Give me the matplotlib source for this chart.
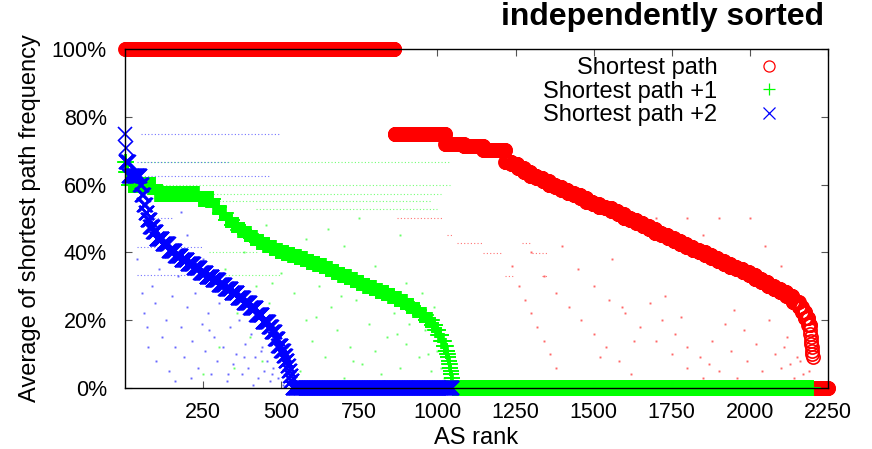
#!/usr/bin/env python3
"""
Average shortest path frequency vs AS rank, each series sorted independently
"""

import matplotlib
matplotlib.use('Agg')
import matplotlib.pyplot as plt
import numpy as np

plt.rcParams['font.family'] = ['Liberation Sans', 'DejaVu Sans']

# sorted curves, stored as (value %, number of ASes with that value)
red_values = [100, 75, 72, 71.5, 70.3,
              66.8, 66.0, 65.0, 63.8, 62.6, 61.8, 61.0, 60.0, 59.2, 58.3,
              57.6, 56.9, 56.0, 55.0, 54.2, 53.5, 53.0, 52.2, 51.3, 50.2,
              49.5, 48.8, 47.8, 46.8, 45.8, 45.0, 44.2, 43.4, 42.6, 41.6,
              40.8, 40.0, 39.2, 38.3, 37.5, 36.6, 35.8, 35.0, 34.2, 33.2,
              32.2, 31.2, 30.2, 29.3, 28.2, 27.0, 25.5,
              24.0, 22.5, 20.5, 18.5,
              17, 16, 15, 14, 13, 12, 11, 10, 9, 0]
red_counts = [862, 162, 60, 62, 70] + [20] * 47 + [10, 10, 10, 6] + [1] * 9 + [49]

green_values = [66.7, 63.6, 60.0, 57.1, 55.6,
                53.5, 51.5, 49.5, 48.0, 46.5, 45.3, 44.2, 43.0, 42.2, 41.3,
                40.5, 39.8, 39.2, 38.6, 38.0, 37.3, 36.7, 36.0, 35.2, 34.3,
                33.4, 32.6, 31.8, 31.0, 30.2, 29.5, 28.7, 27.9, 27.0, 26.2,
                25.3, 24.3, 23.0, 21.6, 20.0,
                18.5, 17.0, 15.5, 14.0, 12.5, 11.0,
                10, 9, 8, 7, 6, 5, 4, 3, 2, 0]
green_counts = [3, 8, 85, 140, 46] + [20] * 35 + [10, 10, 10, 8, 6, 5] + [2] * 9 + [1153]

blue_values = [75, 70.8, 66.7, 62.5, 60, 57, 54, 51.5, 49.5, 47.5, 46,
               44.0, 42.5, 40.5, 39, 37.8, 36.5, 35.5, 34.0, 32.8, 31.8,
               30.5, 29.3, 28.0, 26.5, 25.0, 23.5, 21.5, 19.5,
               18, 16.5, 14.5, 12.5, 11, 9.5, 8, 6.5, 5, 3.5, 2, 0]
blue_counts = [1, 1, 10, 36, 6, 6, 6, 6, 8, 10, 10,
               20, 20, 20, 20, 20, 20, 20, 20, 20, 20,
               20, 20, 20, 20, 20, 20, 20, 20,
               10, 10, 10, 10, 8, 6, 6, 4, 4, 4, 4, 512]

# faint background points: horizontal runs (level %, first rank, last rank)
red_run_level = [50, 45, 42.7, 39.7, 33.1, 42.7, 39.7, 33.1]
red_run_start = [870, 1030, 1062, 1146, 1216, 1270, 1302, 1334]
red_run_end = [1018, 1050, 1146, 1206, 1242, 1296, 1350, 1354]

green_run_level = [66.7, 60.0, 57.1, 55.2, 52.8, 40.0, 33.3]
green_run_start = [50, 110, 240, 300, 420, 270, 320]
green_run_end = [1040, 1040, 1010, 980, 1000, 430, 500]

blue_run_level = [75, 66.7, 62.5, 50.0, 41.7, 33.3]
blue_run_start = [50, 40, 50, 60, 40, 40]
blue_run_end = [500, 330, 460, 150, 250, 220]

# faint background points: single ASes (rank, value %)
red_dot_rank = [1240, 1260, 1280, 1300, 1320, 1340, 1360, 1380, 1300, 1340,
                1380, 1420, 1460, 1500, 1540, 1580, 1620, 1450, 1500, 1550,
                1600, 1650, 1700, 1750, 1800, 1850, 1680, 1720, 1760, 1800,
                1840, 1880, 1900, 1940, 1960, 1990, 2020, 2040, 2060, 2080,
                2100, 2120, 2140, 2160, 2180, 2190, 1700, 1800, 1900, 2000,
                1650, 1850, 2050, 2100, 1950, 2060, 1560, 1400, 2110, 2150,
                2170, 2130, 1980, 1920, 1870, 1780, 1730, 1630, 1590, 1520]
red_dot_value = [36, 30, 26, 22, 18, 14, 10, 6, 40, 33,
                 28, 24, 20, 16, 12, 8, 4, 35, 30, 26,
                 22, 18, 14, 10, 6, 3, 25, 20, 16, 12,
                 9, 14, 5, 11, 3, 8, 13, 5, 2, 10,
                 6, 15, 3, 8, 1, 5, 50, 50, 50, 50,
                 47, 45, 42, 36, 23, 20, 38, 42, 12, 9,
                 4, 7, 17, 19, 7, 21, 27, 14, 24, 9]

green_dot_rank = [320, 340, 360, 380, 400, 420, 440, 460, 480, 500,
                  520, 540, 560, 580, 600, 620, 640, 660, 680, 700,
                  720, 740, 760, 780, 800, 820, 840, 860, 880, 900,
                  920, 940, 960, 980, 1000, 1020, 1035, 580, 700, 800,
                  900, 650, 450, 750, 880, 950, 990, 300, 250, 350,
                  610, 730, 870, 970, 1010, 530, 470, 690, 830, 910]
green_dot_value = [35, 28, 22, 40, 15, 30, 8, 25, 18, 34,
                   12, 28, 5, 20, 14, 30, 9, 24, 17, 3,
                   12, 26, 7, 19, 11, 4, 15, 22, 6, 13,
                   2, 9, 17, 5, 11, 3, 7, 44, 42, 36,
                   31, 47, 48, 50, 45, 28, 24, 12, 4, 6,
                   21, 8, 16, 10, 6, 38, 31, 27, 2, 19]

blue_dot_rank = [40, 55, 60, 70, 75, 85, 95, 100, 110, 120,
                 130, 140, 150, 160, 170, 180, 190, 200, 210, 215,
                 225, 235, 245, 255, 265, 275, 285, 295, 300, 315,
                 325, 335, 345, 355, 365, 375, 385, 395, 405, 415,
                 425, 435, 445, 455, 465, 475, 490, 505, 120, 200,
                 250, 90, 180, 330, 380, 410, 440, 470, 160, 270]
blue_dot_value = [38, 28, 22, 18, 12, 30, 25, 8, 35, 15,
                  20, 5, 27, 12, 33, 18, 9, 24, 3, 14,
                  28, 6, 19, 11, 22, 4, 15, 8, 25, 12,
                  2, 18, 7, 10, 20, 4, 13, 6, 16, 9,
                  3, 11, 5, 8, 2, 6, 3, 1, 42, 45,
                  38, 50, 52, 4, 9, 1, 12, 4, 2, 17]

series = [
    ('Shortest path', red_values, red_counts, '#ff0000', 'o', 9.5,
     red_run_level, red_run_start, red_run_end, red_dot_rank, red_dot_value),
    ('Shortest path +1', green_values, green_counts, '#00ff00', '+', 11,
     green_run_level, green_run_start, green_run_end, green_dot_rank, green_dot_value),
    ('Shortest path +2', blue_values, blue_counts, '#0000ff', 'x', 10,
     blue_run_level, blue_run_start, blue_run_end, blue_dot_rank, blue_dot_value),
]

fig = plt.figure(figsize=(8.72, 4.49), dpi=100)
ax = fig.add_axes([0.1433, 0.1359, 0.8062, 0.755])

# faint scattered values behind the sorted curves
for (name, vals, counts, color, marker, ms,
     lvl, r0, r1, drank, dval) in series:
    ax.hlines(lvl, r0, r1, colors=color, linewidth=0.8, alpha=0.55,
              linestyles=(0, (1, 2)), zorder=1)
    ax.plot(drank, dval, ls='none', marker='s', ms=1.4, mec='none',
            color=color, alpha=0.6, zorder=1)

# sorted curves, one marker per AS
for (name, vals, counts, color, marker, ms,
     lvl, r0, r1, drank, dval) in series:
    y = np.repeat(vals, counts)
    x = np.arange(1, len(y) + 1)
    if marker == 'o':
        ax.plot(x, y, ls='none', marker=marker, ms=ms, mfc='none', mec=color,
                mew=1.2, clip_on=False, label=name, zorder=3)
    else:
        ax.plot(x, y, ls='none', marker=marker, ms=ms, color=color,
                mew=1.2, clip_on=False, label=name, zorder=3)

ax.set_xlim(0, 2250)
ax.set_ylim(0, 100)
ax.set_xticks(range(250, 2251, 250))
ax.set_yticks(range(0, 101, 20))
ax.set_yticklabels([f'{v}%' for v in range(0, 101, 20)])
ax.tick_params(direction='in', top=True, right=True, length=5,
               labelsize=15.5, color='#555555')
ax.tick_params(axis='y', pad=13)
ax.tick_params(axis='x', pad=10)
for sp in ax.spines.values():
    sp.set_zorder(5)
    sp.set_linewidth(1.0)

ax.set_xlabel('AS rank', fontsize=17, labelpad=3)
ax.set_ylabel('Average of shortest path frequency', fontsize=17, labelpad=8)

fig.text(0.945, 0.962, 'independently sorted', ha='right', va='center',
         fontsize=23, fontweight='bold')

# legend keeps the small gnuplot-size markers
leg = ax.legend(loc='upper right', bbox_to_anchor=(0.93, 0.975), markerfirst=False,
                frameon=False, fontsize=17, handlelength=0.8, handletextpad=1.8,
                labelspacing=0.05, borderpad=0, borderaxespad=0)
for h in leg.legend_handles:
    h.set_markersize(8)
    h.set_markeredgewidth(0.9)

plt.savefig('out.png', dpi=100)
